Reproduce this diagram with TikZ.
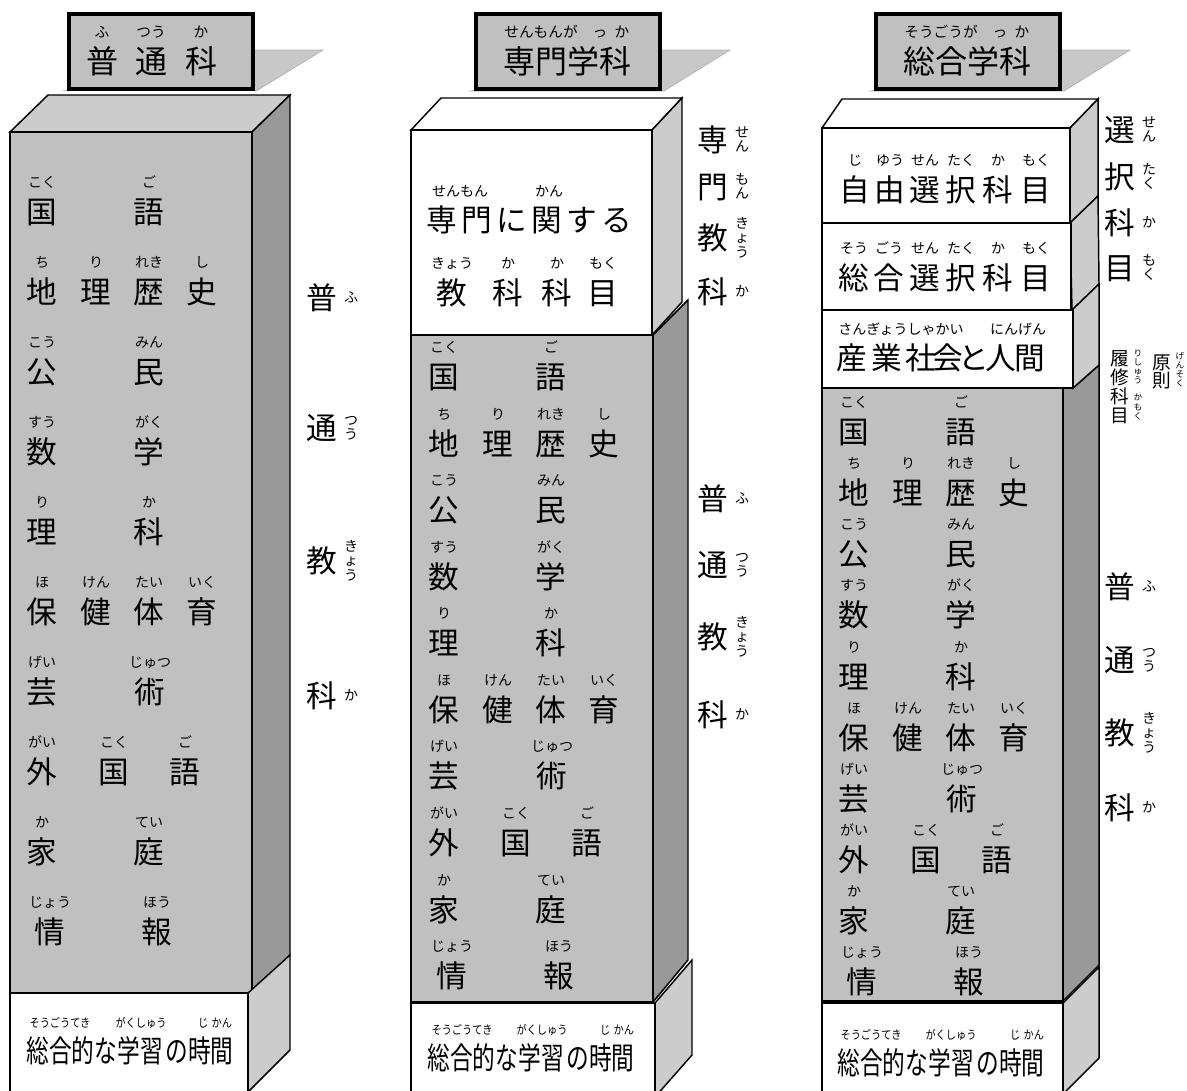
\documentclass[tikz,border=0pt]{standalone}
\usepackage{fontspec}
\setmainfont{Noto Sans CJK JP}
\usepackage{graphicx}
\definecolor{frontg}{HTML}{C0C0C0}
\definecolor{topg}{HTML}{CCCCCC}
\definecolor{sideg}{HTML}{999999}
\definecolor{sidel}{HTML}{CCCCCC}
\definecolor{shad}{HTML}{C8C8C8}
\definecolor{shadline}{HTML}{B0B0B0}
\newcounter{nd}
\newcommand\kj[3]{\stepcounter{nd}\node[big] (k\arabic{nd}) at (#1,#2) {#3};}
\newcommand\rt[3]{\stepcounter{nd}\node[ruby] (r\arabic{nd}) at (#1,#2) {#3};}
\newcommand\kr[4]{\kj{#1}{#2}{#3}\rt{#1}{#2-29}{#4}}
% vertical list of small characters: style, x, y-centre, count, pitch, list
\newcommand\vstack[6]{\stepcounter{nd}\foreach \c [count=\i] in {#6} {\node[#1] (v\arabic{nd}-\i) at (#2,{#3+(\i-(#4+1)/2)*#5}) {\c};}}
\newcommand\vk[5]{\kj{#1}{#2}{#3}\vstack{ruby}{#1+29}{#2}{#4}{14.5}{#5}}
\newcommand\tk[4]{\stepcounter{nd}\node[ttl] (t\arabic{nd}) at (#1,#2) {#3};\stepcounter{nd}\node[truby] (t\arabic{nd}) at (#1,#2-29) {#4};}
\newcommand\subjects[3]{%
 \kr{#1}{#2}{国}{こく}\kr{#1+107}{#2}{語}{ご}%
 \kr{#1}{#2+#3}{地}{ち}\kr{#1+54}{#2+#3}{理}{り}\kr{#1+107}{#2+#3}{歴}{れき}\kr{#1+160}{#2+#3}{史}{し}%
 \kr{#1}{#2+2*#3}{公}{こう}\kr{#1+107}{#2+2*#3}{民}{みん}%
 \kr{#1}{#2+3*#3}{数}{すう}\kr{#1+107}{#2+3*#3}{学}{がく}%
 \kr{#1}{#2+4*#3}{理}{り}\kr{#1+107}{#2+4*#3}{科}{か}%
 \kr{#1}{#2+5*#3}{保}{ほ}\kr{#1+54}{#2+5*#3}{健}{けん}\kr{#1+107}{#2+5*#3}{体}{たい}\kr{#1+160}{#2+5*#3}{育}{いく}%
 \kr{#1}{#2+6*#3}{芸}{げい}\kr{#1+108}{#2+6*#3}{術}{じゅつ}%
 \kr{#1}{#2+7*#3}{外}{がい}\kr{#1+72}{#2+7*#3}{国}{こく}\kr{#1+143}{#2+7*#3}{語}{ご}%
 \kr{#1}{#2+8*#3}{家}{か}\kr{#1+107}{#2+8*#3}{庭}{てい}%
 \kr{#1+8}{#2+9*#3}{情}{じょう}\kr{#1+115}{#2+9*#3}{報}{ほう}}
\newcommand\sogo[5]{% cx, y, ruby1 x, ruby2 x, ruby3 x
 \stepcounter{nd}\node[bot] (b\arabic{nd}) at (#1,#2) {\scalebox{0.74}[1]{総合的な学\hspace{1pt}習\hspace{2pt}の時間}};%
 \stepcounter{nd}\node[bruby] (b\arabic{nd}) at (#3,#2-28) {\scalebox{0.85}[1]{そうごうてき}};%
 \stepcounter{nd}\node[bruby] (b\arabic{nd}) at (#4,#2-28) {\scalebox{0.85}[1]{がくしゅう}};%
 \stepcounter{nd}\node[bruby] (b\arabic{nd}) at (#5,#2-28) {\scalebox{0.85}[1]{じ\hspace{3pt}かん}};}
\tikzset{
 big/.style={font=\fontsize{23}{23}\selectfont, inner sep=0pt, text height=19pt, text depth=1.5pt},
 ruby/.style={font=\fontsize{10.5}{10.5}\selectfont, inner sep=0pt, text height=8pt, text depth=1pt},
 ttl/.style={font=\fontsize{24}{24}\selectfont, inner sep=0pt, text height=20pt, text depth=1.5pt},
 truby/.style={font=\fontsize{11}{11}\selectfont, inner sep=0pt, text height=8.5pt, text depth=1pt},
 bot/.style={font=\fontsize{23}{23}\selectfont, inner sep=0pt, text height=19pt, text depth=1.5pt},
 bruby/.style={font=\fontsize{9}{9}\selectfont, inner sep=0pt, text height=7pt, text depth=1pt},
 tiny/.style={font=\fontsize{6.5}{6.5}\selectfont, inner sep=0pt, text height=5pt, text depth=0.5pt},
 mid/.style={font=\fontsize{14}{14}\selectfont, inner sep=0pt, text height=11.5pt, text depth=1pt},
 face/.style={draw=black, line width=1.1pt, line join=miter},
 lbox/.style={draw=black, line width=2.6pt, fill=frontg},
 lshadow/.style={draw=shadline, line width=0.5pt, fill=shad},
}
\begin{document}
\begin{tikzpicture}[x=0.75pt,y=-0.75pt]
\useasboundingbox (0,0) rectangle (1187,1090);
\clip (0,0) rectangle (1187,1090);
\fill[white] (0,0) rectangle (1187,1090);

% ---------------- Column 1 : 普通科 ----------------
\draw[lshadow] (65,90.5) -- (257,90.5) -- (323,50) -- (253,50) -- cycle;
\draw[lbox] (69,14) rectangle (253,89);
\tk{102}{61}{普}{ふ}\tk{151}{61}{通}{つう}\tk{201}{61}{科}{か}

\draw[face, fill=topg] (10,132) -- (48,95) -- (290,95) -- (252,132) -- cycle;
\draw[face, fill=sideg] (252,132) -- (290,95) -- (290,955) -- (252,993) -- cycle;
\draw[face, fill=frontg] (10,132) rectangle (252,993);
\draw[face, fill=sidel] (248,993) -- (290,955) -- (290,1050) -- (248,1092) -- cycle;
\draw[face, fill=white] (10,993) rectangle (248,1100);

\subjects{42}{212}{80}
\sogo{130}{1051}{60}{141}{215}

\vk{322}{298}{普}{1}{ふ}
\vk{322}{428}{通}{2}{つ,う}
\vk{322}{561}{教}{3}{き,ょ,う}
\vk{322}{696}{科}{1}{か}

% ---------------- Column 2 : 専門学科 ----------------
\draw[lshadow] (471,91) -- (664,91) -- (730,50) -- (660,50) -- cycle;
\draw[lbox] (476,14) rectangle (660,89);
\stepcounter{nd}\node[ttl] (title2) at (567,61) {専門学科};
\stepcounter{nd}\node[truby] (t2a) at (541,32) {せんもんが};
\stepcounter{nd}\node[truby] (t2b) at (600,32) {っ};
\stepcounter{nd}\node[truby] (t2c) at (622,32) {か};

\draw[face, fill=white] (411,130) -- (441,98) -- (682,98) -- (652,130) -- cycle;
\draw[face, fill=sidel] (652,130) -- (682,98) -- (682,302) -- (652,335) -- cycle;
\draw[face, fill=white] (411,130) rectangle (652,335);
\draw[face, fill=sideg] (653,335) -- (688,300) -- (688,960) -- (653,1002) -- cycle;
\draw[face, fill=frontg] (411,335) rectangle (653,1002);
\draw[face, fill=sidel] (655,1003) -- (692,960) -- (692,1055) -- (655,1097) -- cycle;
\draw[face, fill=white] (411,1003) rectangle (655,1100);

\kj{442}{220}{専}\kj{477}{220}{門}\kj{512}{220}{に}\kj{547}{220}{関}\kj{582}{220}{す}\kj{617}{220}{る}
\rt{460}{192}{せんもん}\rt{549}{192}{かん}
\kr{452}{293}{教}{きょう}\kr{508}{293}{科}{か}\kr{557}{293}{科}{か}\kr{603}{293}{目}{もく}

\subjects{444}{377}{66.55}
\sogo{531}{1058}{462}{542}{617}

\vk{713}{140}{専}{2}{せ,ん}
\vk{713}{187}{門}{2}{も,ん}
\vk{713}{238}{教}{3}{き,ょ,う}
\vk{713}{292}{科}{1}{か}
\vk{713}{499}{普}{1}{ふ}
\vk{713}{565}{通}{2}{つ,う}
\vk{713}{637}{教}{3}{き,ょ,う}
\vk{713}{715}{科}{1}{か}

% ---------------- Column 3 : 総合学科 ----------------
\draw[lshadow] (871,91) -- (1064,91) -- (1130,50) -- (1060,50) -- cycle;
\draw[lbox] (876,14) rectangle (1060,89);
\stepcounter{nd}\node[ttl] (title3) at (967,61) {総合学科};
\stepcounter{nd}\node[truby] (t3a) at (941,32) {そうごうが};
\stepcounter{nd}\node[truby] (t3b) at (1000,32) {っ};
\stepcounter{nd}\node[truby] (t3c) at (1022,32) {か};

\draw[face, fill=white] (822,128) -- (842,99) -- (1098,99) -- (1070,128) -- cycle;
\draw[face, fill=sidel] (1070,128) -- (1098,99) -- (1098,196) -- (1070,223) -- cycle;
\draw[face, fill=white] (822,128) rectangle (1070,223);
\draw[face, fill=sidel] (1070,223) -- (1098,196) -- (1099,284) -- (1072,310) -- cycle;
\draw[face, fill=white] (822,223) rectangle (1071,310);
\draw[face, fill=sideg] (1063,388) -- (1073,388) -- (1099,365) -- (1099,965) -- (1063,1001) -- cycle;
\draw[face, fill=frontg] (822,388) rectangle (1063,1001);
\draw[face, fill=sidel] (1072,310) -- (1099,284) -- (1099,365) -- (1073,388) -- cycle;
\draw[face, fill=white] (822,310) rectangle (1073,388);
\draw[face, fill=sidel] (1063,1003) -- (1099,967) -- (1099,1058) -- (1063,1094) -- cycle;
\draw[face, fill=white] (822,1003) rectangle (1063,1100);

\kr{855}{190}{自}{じ}\kr{890}{190}{由}{ゆう}\kr{925}{190}{選}{せん}\kr{961}{190}{択}{たく}\kr{998}{190}{科}{か}\kr{1036}{190}{目}{もく}
\kr{854}{278}{総}{そう}\kr{889}{278}{合}{ごう}\kr{925}{278}{選}{せん}\kr{961}{278}{択}{たく}\kr{998}{278}{科}{か}\kr{1036}{278}{目}{もく}
\kj{852}{358}{産}\kj{887}{358}{業}\kj{921}{358}{社}\kj{948}{358}{会}\kj{974}{358}{と}\kj{1001}{358}{人}\kj{1030}{358}{間}
\rt{901}{330}{さんぎょうしゃかい}\rt{1018}{330}{にんげん}

\subjects{854}{432}{61.1}
\sogo{941}{1063}{871}{951}{1027}

\vk{1120}{130}{選}{2}{せ,ん}
\vk{1120}{177}{択}{2}{た,く}
\vk{1120}{223}{科}{1}{か}
\vk{1120}{268}{目}{2}{も,く}

\vstack{mid}{1120}{387}{4}{19}{履,修,科,目}
\vstack{tiny}{1138}{367}{4}{9.3}{り,し,ゅ,う}
\vstack{tiny}{1138}{407}{3}{9.3}{か,も,く}
\vstack{mid}{1162}{371}{2}{18}{原,則}
\vstack{tiny}{1180}{370}{4}{9}{げ,ん,そ,く}

\vk{1120}{587}{普}{1}{ふ}
\vk{1120}{660}{通}{2}{つ,う}
\vk{1120}{733}{教}{3}{き,ょ,う}
\vk{1120}{808}{科}{1}{か}
\end{tikzpicture}
\end{document}
